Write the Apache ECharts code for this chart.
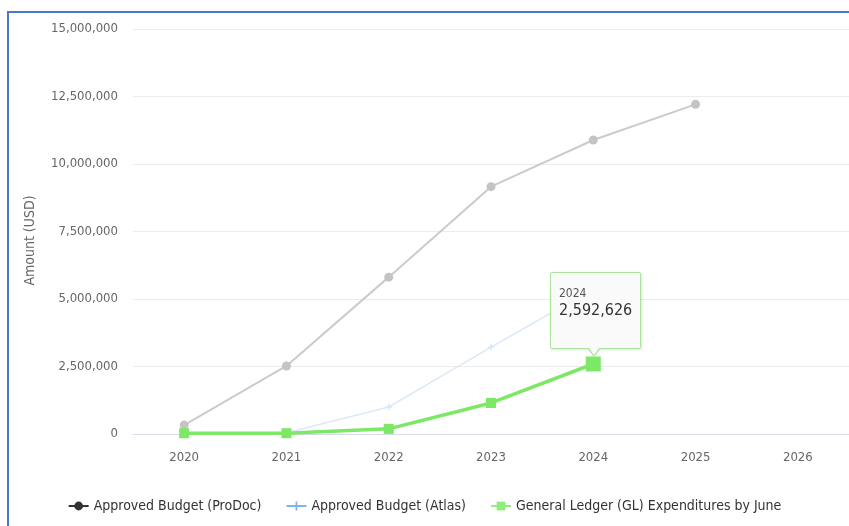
<!DOCTYPE html>
<html>
<head>
<meta charset="utf-8">
<script src="https://cdn.jsdelivr.net/npm/echarts@6/dist/echarts.min.js"></script>
<style>
  html, body { margin:0; padding:0; background:#fff; width:849px; height:526px; overflow:hidden; }
  #frame { position:absolute; left:7px; top:11px; width:860px; height:540px; border-top:2px solid #4a78cf; border-left:2px solid #4a78cf; }
  #chart { position:absolute; left:0; top:0; width:849px; height:526px; }
</style>
</head>
<body>
<div id="frame"></div>
<div id="chart"></div>
<script>
const years = ['2020', '2021', '2022', '2023', '2024', '2025', '2026'];
const prodoc = [330000, 2520000, 5810000, 9160000, 10890000, 12210000, null];
const atlas = [0, 50000, 1000000, 3220000, 5370000, null, null];
const glExp = [30000, 30000, 190000, 1150000, 2592626, null, null];
const seriesNames = ['Approved Budget (ProDoc)', 'Approved Budget (Atlas)', 'General Ledger (GL) Expenditures by June'];
const highlightIndex = 4;

const FONT = '"DejaVu Sans Condensed", "Liberation Sans Narrow", sans-serif';
const chart = echarts.init(document.getElementById('chart'));

function fmt(v) { return Math.round(v).toString().replace(/\B(?=(\d{3})+(?!\d))/g, ','); }

const option = {
  animation: false,
  backgroundColor: 'transparent',
  grid: { left: 133, right: 0, top: 29, bottom: 92 },
  xAxis: {
    type: 'category',
    data: years,
    boundaryGap: true,
    axisLine: { lineStyle: { color: '#d5dbe8', width: 1 } },
    axisTick: { show: false },
    axisLabel: { color: '#666', fontSize: 13, fontFamily: FONT, margin: 17 }
  },
  yAxis: {
    type: 'value',
    min: 0, max: 15000000, interval: 2500000,
    name: 'Amount (USD)',
    nameLocation: 'middle',
    nameGap: 96,
    nameTextStyle: { color: '#666', fontSize: 14, fontFamily: FONT, padding: [0, 0, 0, -18] },
    axisLabel: { color: '#666', fontSize: 13, fontFamily: FONT, margin: 15, formatter: fmt },
    splitLine: { lineStyle: { color: '#ececec', width: 1 } },
    axisLine: { show: false },
    axisTick: { show: false }
  },
  legend: {
    bottom: 8,
    left: 'center',
    itemWidth: 20,
    itemHeight: 11,
    itemGap: 24,
    textStyle: { color: '#333', fontSize: 14, fontFamily: FONT },
    data: [
      { name: seriesNames[0], itemStyle: { color: '#333' }, lineStyle: { color: '#333', width: 2 } },
      { name: seriesNames[1], itemStyle: { color: '#7cb5ec' }, lineStyle: { color: '#7cb5ec', width: 2 } },
      { name: seriesNames[2], itemStyle: { color: '#90ed7d' }, lineStyle: { color: '#90ed7d', width: 2 } }
    ]
  },
  tooltip: {
    trigger: 'item',
    triggerOn: 'none',
    alwaysShowContent: true,
    backgroundColor: 'rgba(250,250,250,0.95)',
    borderColor: '#a9e39c',
    borderWidth: 1,
    padding: [13, 8, 28, 8],
    extraCssText: 'box-shadow:1px 1px 3px rgba(0,0,0,0.12);border-radius:2px;overflow:visible;',
    position: function (point, params, dom, rect, size) {
      return [point[0] - size.contentSize[0] / 2 + 2, point[1] - size.contentSize[1] - 15];
    },
    formatter: function (p) {
      return '<div style="position:relative;font-family:' + FONT.replace(/"/g, "'") + ';color:#333;line-height:1.2">' +
        '<div style="font-size:12px;color:#555">' + p.name + '</div>' +
        '<div style="font-size:16px;color:#333">' + fmt(p.value) + '</div>' +
        '</div>' +
        '<div style="position:absolute;left:50%;bottom:-9px;margin-left:-9px;width:0;height:0;border-left:7px solid transparent;border-right:7px solid transparent;border-top:9px solid #a9e39c"></div>' +
        '<div style="position:absolute;left:50%;bottom:-7px;margin-left:-8px;width:0;height:0;border-left:6px solid transparent;border-right:6px solid transparent;border-top:8px solid #fafafa"></div>';
    }
  },
  series: [
    {
      name: seriesNames[0],
      type: 'line',
      data: prodoc,
      symbol: 'circle',
      symbolSize: 9,
      itemStyle: { color: '#c4c4c4' },
      lineStyle: { color: '#cbcbcb', width: 2 },
      z: 2
    },
    {
      name: seriesNames[1],
      type: 'line',
      data: atlas,
      symbol: 'path://M4,0 L6,0 L6,4 L10,4 L10,6 L6,6 L6,10 L4,10 L4,6 L0,6 L0,4 L4,4 Z',
      symbolSize: 7,
      itemStyle: { color: '#d8e7f6' },
      lineStyle: { color: '#dce9f6', width: 1.5 },
      z: 2
    },
    {
      name: seriesNames[2],
      type: 'line',
      data: glExp.map((v, i) => i === highlightIndex ? { value: v, symbolSize: 15 } : v),
      symbol: 'rect',
      symbolSize: 10,
      itemStyle: { color: '#7ce866' },
      lineStyle: { color: '#7ce866', width: 3.5 },
      z: 3
    }
  ]
};
chart.setOption(option);
chart.dispatchAction({ type: 'showTip', seriesIndex: 2, dataIndex: highlightIndex });
</script>
</body>
</html>
